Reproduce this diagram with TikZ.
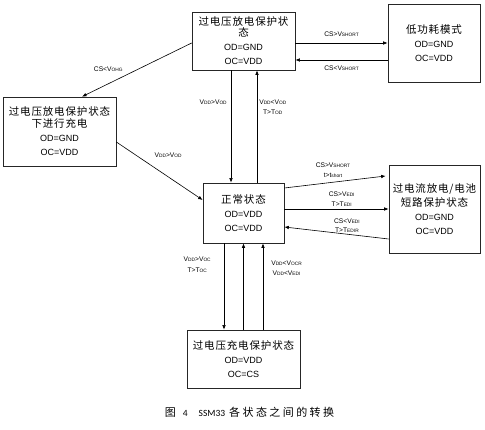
\documentclass[tikz,border=0pt]{standalone}
\usepackage{fontspec}
\setmainfont{Liberation Sans}
\newfontfamily\cjk[LetterSpace=8]{Noto Sans CJK SC}
\newfontfamily\cjkcap[LetterSpace=22]{Noto Sans CJK SC}
\newfontfamily\capfont{Carlito}
\usetikzlibrary{arrows.meta,calc}
\newcommand\zh[1]{{\cjk\fontsize{10.5}{14}\selectfont #1}}
\newcommand\lsub[1]{{\fontsize{4.8}{5}\selectfont #1}}

\begin{document}
\begin{tikzpicture}[
  x=1pt, y=-1pt,
  state/.style={draw=black!85, line width=0.7pt, align=center, inner sep=0pt, font=\fontsize{9}{14}\selectfont},
  arr/.style={-{Latex[length=4.5pt,width=3.6pt]}, line width=0.6pt},
  lab/.style={font=\fontsize{6.7}{10.5}\selectfont, align=center, inner sep=1pt},
]
\useasboundingbox (0,0) rectangle (485,430);
% ---- states ----
\node[state, minimum width=103pt, minimum height=58pt] (ovd) at (243.5,41) {\zh{过电压放电保护状}\\[-3pt]\zh{态}\\ OD=GND\\ OC=VDD};
\node[state, minimum width=92pt, minimum height=78pt] (lowp) at (434,43) {\zh{低功耗模式}\\ OD=GND\\ OC=VDD};
\node[state, minimum width=113pt, minimum height=69pt] (ovdchg) at (59.5,131.5) {\zh{过电压放电保护状态}\\[-2pt]\zh{下进行充电}\\ OD=GND\\ OC=VDD};
\node[state, minimum width=81pt, minimum height=60pt] (normal) at (243.5,213) {\zh{正常状态}\\ OD=VDD\\ OC=VDD};
\node[state, minimum width=91pt, minimum height=88pt] (ocp) at (434.5,209) {\zh{过电流放电/电池}\\ \zh{短路保护状态}\\ OD=GND\\ OC=VDD};
\node[state, minimum width=113pt, minimum height=58pt] (ovc) at (243.5,359) {\zh{过电压充电保护状态}\\ OD=VDD\\ OC=CS};
% ---- caption ----
\node (cap) at (249.5,412) {{\cjkcap\fontsize{11}{12}\selectfont 图}\hspace{7pt}{\capfont\fontsize{9.5}{12}\selectfont 4\hspace{11pt}SSM33}\hspace{4pt}{\cjkcap\fontsize{11}{12}\selectfont 各状态之间的转换}};
% ---- transitions ----
\coordinate (lp) at ($(lowp.west)+(0,17)$);
\draw[arr] (ovd.east |- lowp.west) -- node[lab, above=5pt] {CS>V\lsub{SHORT}} (lowp.west);
\draw[arr] (lp) -- node[lab, below=5pt] {CS<V\lsub{SHORT}} (lp -| ovd.east);
\draw[arr] (ovd.west |- lowp.west) -- node[lab, pos=0.6, above left=2pt] {CS<V\lsub{OHG}} ($(ovdchg.north)+(22.5,0)$);
\draw[arr] ($(ovdchg.east)+(0,10.5)$) -- node[lab, pos=0.6, above=18pt] {V\lsub{DD}>V\lsub{OD}} ($(normal.west)+(0,-13)$);
\draw[arr] ($(ovd.south)+(-12.5,0)$) -- node[lab, pos=0.28, left=3pt] {V\lsub{DD}>V\lsub{OD}} ($(normal.north)+(-12.5,0)$);
\draw[arr] ($(normal.north)+(13.5,0)$) -- node[lab, pos=0.67, right=1pt] {V\lsub{DD}<V\lsub{OD}\\T>T\lsub{OD}} ($(ovd.south)+(13.5,0)$);
% short circuit / over current
\draw[arr] ($(normal.east)+(0,-25)$) -- node[lab, pos=0.48, above=3pt] {CS>V\lsub{SHORT}\\t>t\lsub{short}} ($(ocp.west)+(-3,-33)$);
\draw[arr] ($(normal.east)+(0,-4)$) -- node[lab, pos=0.55, above=1pt] {CS>V\lsub{EDI}\\T>T\lsub{EDI}} (ocp.west);
\draw[arr] ($(ocp.west)+(0,30)$) -- node[lab, pos=0.4, above=0pt, font=\fontsize{6.7}{9.5}\selectfont] {CS<V\lsub{EDI}\\T>T\lsub{EDIR}} ($(normal.east)+(0,14)$);
% over charge
\draw[arr] ($(normal.south)+(-19.5,0)$) -- node[lab, pos=0.25, left=12pt] {V\lsub{DD}>V\lsub{OC}\\T>T\lsub{OC}} ($(ovc.north)+(-19.5,0)$);
\draw[arr] (ovc.north) -- (normal.south);
\draw[arr] ($(ovc.north)+(19.5,0)$) -- node[lab, pos=0.71, right=7pt] {V\lsub{DD}<V\lsub{OCR}\\V\lsub{DD}<V\lsub{EDI}} ($(normal.south)+(19.5,0)$);
\end{tikzpicture}
\end{document}
